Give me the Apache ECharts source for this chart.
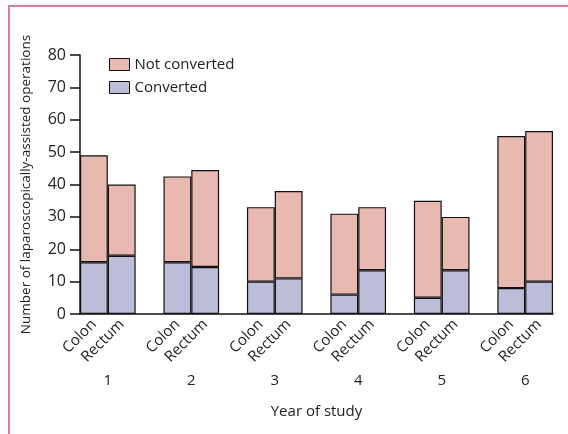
<!DOCTYPE html>
<html>
<head>
<meta charset="utf-8">
<script src="https://cdn.jsdelivr.net/npm/echarts@6/dist/echarts.min.js"></script>
<style>
  html, body { margin: 0; padding: 0; background: #fff; }
  #chart { width: 568px; height: 434px; }
</style>
</head>
<body>
<div id="chart"></div>
<script>
var years = ['1', '2', '3', '4', '5', '6'];
var sites = ['Colon', 'Rectum'];
var colonConverted = [16, 16, 10, 6, 5, 8];
var colonNotConverted = [33, 26.5, 23, 25, 30, 47];
var rectumConverted = [18, 14.5, 11, 13.5, 13.5, 10];
var rectumNotConverted = [22, 30, 27, 19.5, 16.5, 46.5];

var font = 'Open Sans';
var pink = '#e8b9b1';
var lilac = '#bcbdd9';

// one slot per bar, with an empty slot between years
var slots = [];
var convData = [];
var notConvData = [];
var yearSlots = [''];
for (var i = 0; i < years.length; i++) {
  slots.push(sites[0], sites[1]);
  convData.push(colonConverted[i], rectumConverted[i]);
  notConvData.push(colonNotConverted[i], rectumNotConverted[i]);
  yearSlots.push(years[i], '');
  if (i < years.length - 1) {
    slots.push('');
    convData.push('-');
    notConvData.push('-');
    yearSlots.push('');
  }
}

var myChart = echarts.init(document.getElementById('chart'));
var option = {
  animation: false,
  textStyle: { fontFamily: font },
  graphic: [{
    type: 'polyline',
    shape: { points: [[9, 434], [9, 6], [568, 6]] },
    style: { stroke: '#de7a9f', lineWidth: 2, fill: null }
  }],
  legend: {
    orient: 'vertical',
    left: 104,
    top: 52,
    icon: 'rect',
    itemWidth: 20,
    itemHeight: 12,
    itemGap: 8,
    data: ['Not converted', 'Converted'],
    itemStyle: { borderColor: '#111', borderWidth: 1 },
    textStyle: { fontFamily: font, fontSize: 15, color: '#222' }
  },
  grid: { left: 80, right: 15, top: 55, bottom: 120, containLabel: false },
  xAxis: [{
    type: 'category',
    data: slots,
    name: 'Year of study',
    nameLocation: 'middle',
    nameGap: 90,
    nameTextStyle: { fontFamily: font, fontSize: 15, color: '#222' },
    axisLine: { lineStyle: { color: '#111', width: 1.5 } },
    axisTick: { show: false },
    axisLabel: { interval: 0, rotate: 45, margin: 8, fontSize: 15, color: '#222', fontFamily: font }
  }, {
    type: 'category',
    data: yearSlots,
    boundaryGap: false,
    position: 'bottom',
    axisLine: { show: false },
    axisTick: { show: false },
    axisLabel: { interval: 0, margin: 59, fontSize: 15, color: '#222', fontFamily: font }
  }],
  yAxis: {
    type: 'value',
    min: 0,
    max: 80,
    interval: 10,
    name: 'Number of laparoscopically-assisted operations',
    nameLocation: 'middle',
    nameGap: 47,
    nameTextStyle: { fontFamily: font, fontSize: 13.5, color: '#222' },
    axisLine: { show: true, lineStyle: { color: '#111', width: 1.5 } },
    axisTick: { show: true, length: 10, lineStyle: { color: '#111', width: 1.5 } },
    axisLabel: { margin: 14, fontSize: 16, color: '#222', fontFamily: font },
    splitLine: { show: false }
  },
  series: [{
    name: 'Converted',
    type: 'bar',
    stack: 'ops',
    data: convData,
    barCategoryGap: '0%',
    barWidth: '100%',
    itemStyle: { color: lilac, borderColor: '#111', borderWidth: 1.2 }
  }, {
    name: 'Not converted',
    type: 'bar',
    stack: 'ops',
    data: notConvData,
    barWidth: '100%',
    itemStyle: { color: pink, borderColor: '#111', borderWidth: 1.2 }
  }]
};
myChart.setOption(option);
</script>
</body>
</html>
